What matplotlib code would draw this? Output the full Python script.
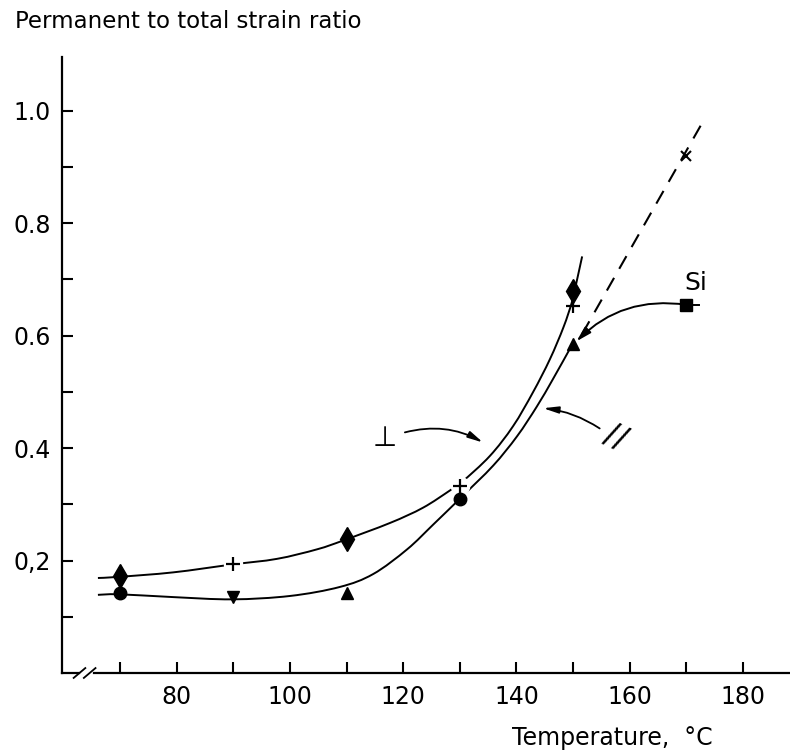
import matplotlib
matplotlib.use('Agg')
import matplotlib.pyplot as plt
from matplotlib.path import Path
from matplotlib.patches import PathPatch
from matplotlib.ticker import FixedLocator, FixedFormatter

plt.rcParams['font.family'] = ['DejaVu Sans']

# measured points, perpendicular (⊥) series
perp_diamond_t = [70, 110, 150]
perp_diamond_r = [0.172, 0.238, 0.680]
perp_plus_t = [90, 130, 150]
perp_plus_r = [0.194, 0.332, 0.652]

# measured points, parallel (//) series
para_circle_t = [70, 130]
para_circle_r = [0.142, 0.309]
para_down_t = [90]
para_down_r = [0.136]
para_up_t = [110, 150]
para_up_r = [0.143, 0.585]

# Si point and extrapolated point
si_t = [170]
si_r = [0.655]
cross_t = [170]
cross_r = [0.920]

# hand drawn fitted curves
perp_curve_t = [66.1, 69.8, 79.4, 89.8, 97.7, 104.8, 109.5, 117.7, 123.5, 128.3,
                130.4, 135.3, 139.4, 142.9, 145.9, 148.3, 149.8, 150.6, 151.6]
perp_curve_r = [0.169, 0.171, 0.179, 0.193, 0.203, 0.220, 0.236, 0.267, 0.294, 0.325,
                0.340, 0.386, 0.439, 0.499, 0.558, 0.615, 0.660, 0.695, 0.741]
para_curve_t = [66.1, 69.8, 79.4, 89.8, 100.0, 108.8, 114.7, 120.7, 125.3, 129.4,
                130.6, 135.9, 140.1, 143.6, 146.4, 149.4]
para_curve_r = [0.139, 0.140, 0.135, 0.131, 0.137, 0.153, 0.176, 0.220, 0.264, 0.304,
                0.316, 0.369, 0.421, 0.474, 0.522, 0.576]
dash_t = [151.6, 172.6]
dash_r = [0.603, 0.975]

x_major = [80, 100, 120, 140, 160, 180]
x_minor = [70, 90, 110, 130, 150, 170]
y_major = [0.2, 0.4, 0.6, 0.8, 1.0]
y_labels = ['0,2', '0.4', '0.6', '0.8', '1.0']
y_minor = [0.1, 0.3, 0.5, 0.7, 0.9]


def smooth_path(xs, ys):
    # bezier path through the read points (catmull-rom tangents)
    pts = list(zip(xs, ys))
    verts = [pts[0]]
    codes = [Path.MOVETO]
    for i in range(len(pts) - 1):
        p0 = pts[i - 1] if i > 0 else pts[i]
        p1 = pts[i]
        p2 = pts[i + 1]
        p3 = pts[i + 2] if i + 2 < len(pts) else p2
        c1 = (p1[0] + (p2[0] - p0[0]) / 6, p1[1] + (p2[1] - p0[1]) / 6)
        c2 = (p2[0] - (p3[0] - p1[0]) / 6, p2[1] - (p3[1] - p1[1]) / 6)
        verts += [c1, c2, p2]
        codes += [Path.CURVE4] * 3
    return Path(verts, codes)


fig = plt.figure(figsize=(7.9, 7.56), dpi=100)
ax = fig.add_axes([0.0785, 0.1098, 0.9215, 0.815])
ax.set_xlim(59.76, 188.3)
ax.set_ylim(0.0, 1.096)

for s in ['top', 'right', 'bottom']:
    ax.spines[s].set_visible(False)
ax.spines['left'].set_linewidth(1.6)

# broken x axis
tr = ax.transAxes
ax.plot([0, 0.024], [0, 0], color='k', lw=1.6, transform=tr, clip_on=False)
ax.plot([0.044, 1.0], [0, 0], color='k', lw=1.6, transform=tr, clip_on=False)
ax.plot([0.016, 0.032], [-0.008, 0.008], color='k', lw=1.3, transform=tr, clip_on=False)
ax.plot([0.030, 0.046], [-0.008, 0.008], color='k', lw=1.3, transform=tr, clip_on=False)

ax.xaxis.set_major_locator(FixedLocator(x_major))
ax.xaxis.set_minor_locator(FixedLocator(x_minor))
ax.yaxis.set_major_locator(FixedLocator(y_major))
ax.yaxis.set_major_formatter(FixedFormatter(y_labels))
ax.yaxis.set_minor_locator(FixedLocator(y_minor))
ax.tick_params(which='both', direction='in', length=8, width=1.5, color='k')
ax.tick_params(axis='x', which='major', pad=9, labelsize=17)
ax.tick_params(axis='y', which='major', pad=8, labelsize=17)

# curves
ax.add_patch(PathPatch(smooth_path(perp_curve_t, perp_curve_r), fill=False,
                       color='k', lw=1.4, zorder=2))
ax.add_patch(PathPatch(smooth_path(para_curve_t, para_curve_r), fill=False,
                       color='k', lw=1.4, zorder=2))
ax.plot(dash_t, dash_r, color='k', lw=1.5, dashes=(7, 5), zorder=2)

# white gaps round the + points
ax.plot(perp_plus_t[:2], perp_plus_r[:2], 'o', ms=13, color='white', zorder=3)

ax.plot(perp_diamond_t, perp_diamond_r, 'd', ms=12, color='k', zorder=4)
ax.plot(perp_plus_t, perp_plus_r, '+', ms=10, mew=1.6, color='k', zorder=4)
ax.plot(para_circle_t, para_circle_r, 'o', ms=9, color='k', zorder=4)
ax.plot(para_down_t, para_down_r, 'v', ms=9, color='k', zorder=4)
ax.plot(para_up_t, para_up_r, '^', ms=9, color='k', zorder=4)
ax.plot(si_t, si_r, 's', ms=8, color='k', zorder=4)
ax.plot(cross_t, cross_r, 'x', ms=7, mew=1.5, color='k', zorder=4)

# Si curve with arrow to the 150 point
ax.plot([si_t[0], si_t[0] + 2.2], [si_r[0], si_r[0]], color='k', lw=1.4)
ax.annotate('', xy=(150.6, 0.590), xytext=(si_t[0], si_r[0]),
            arrowprops=dict(arrowstyle='-|>,head_length=0.9,head_width=0.25',
                            connectionstyle='arc3,rad=0.25', lw=1.4, color='k',
                            shrinkA=0, shrinkB=0))
ax.text(169.6, 0.693, 'Si', fontsize=18, ha='left', va='center')

# ⊥ label and arrow
ax.text(116.8, 0.418, '⊥', fontsize=20, ha='center', va='center')
ax.annotate('', xy=(134.1, 0.410), xytext=(120.3, 0.428),
            arrowprops=dict(arrowstyle='-|>,head_length=0.9,head_width=0.2',
                            connectionstyle='arc3,rad=-0.2', lw=1.3, color='k',
                            shrinkA=0, shrinkB=0))

# // label and arrow
ax.text(157.6, 0.420, '//', fontsize=23, ha='center', va='center', rotation=-25)
ax.annotate('', xy=(144.7, 0.471), xytext=(154.7, 0.435),
            arrowprops=dict(arrowstyle='-|>,head_length=0.9,head_width=0.2',
                            connectionstyle='arc3,rad=0.12', lw=1.3, color='k',
                            shrinkA=0, shrinkB=0))

fig.text(15 / 790, 1 - 21 / 756, 'Permanent to total strain ratio',
         fontsize=16.5, ha='left', va='center')
fig.text(713 / 790, 1 - 738 / 756, 'Temperature,  °C',
         fontsize=17, ha='right', va='center')

fig.savefig('out.png', dpi=100)
